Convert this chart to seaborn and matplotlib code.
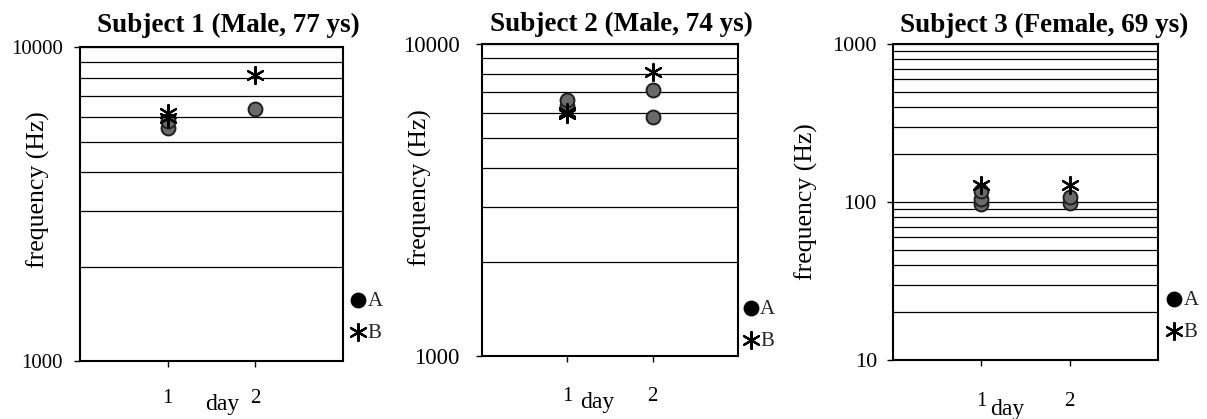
import matplotlib
matplotlib.use('Agg')
import matplotlib.pyplot as plt
import matplotlib.ticker as mticker
import seaborn as sns

# valores (frequencia em Hz por dia)
s1_A_dia = [1, 1, 2]
s1_A_freq = [5520, 5810, 6340]
s1_B_dia = [1, 1, 2]
s1_B_freq = [5950, 6160, 8150]

s2_A_dia = [1, 1, 2, 2]
s2_A_freq = [6330, 6615, 7120, 5840]
s2_B_dia = [1, 1, 2]
s2_B_freq = [5970, 6050, 8130]

s3_A_dia = [1, 1, 1, 2, 2]
s3_A_freq = [97, 105, 117, 98, 108]
s3_B_dia = [1, 2]
s3_B_freq = [128, 128]

titulos = ['Subject 1 (Male, 77 ys)', 'Subject 2 (Male, 74 ys)', 'Subject 3 (Female, 69 ys)']
limites = [(1000, 10000), (1000, 10000), (10, 1000)]
dias = [1, 2]

sns.set_theme(style='white')
plt.rcParams['font.family'] = ['Liberation Serif', 'DejaVu Serif']

fig = plt.figure(figsize=(12.07, 4.19), dpi=100)
fig.patch.set_color('white')

posicoes = [[0.0663, 0.1384, 0.2179, 0.749],
            [0.3993, 0.1504, 0.2121, 0.7446],
            [0.7398, 0.1408, 0.2196, 0.754]]
dados = [(s1_A_dia, s1_A_freq, s1_B_dia, s1_B_freq),
         (s2_A_dia, s2_A_freq, s2_B_dia, s2_B_freq),
         (s3_A_dia, s3_A_freq, s3_B_dia, s3_B_freq)]
titulo_xy = [(0.563, 1.07), (0.543, 1.064), (0.57, 1.06)]
ylabel_xy = [(-0.114, 0.545), (-0.195, 0.54), (-0.283, 0.5)]
xlabel_xy = [(0.54, -0.105), (0.45, -0.117), (0.43, -0.125)]
legenda_xy = [(0.99, 0.14), (0.98, 0.10), (0.995, 0.14)]
tick_fs = [15, 16.5, 16]
tick_pad = [8.5, 12, 7.5]
xtick_pad = [16, 18, 19]

for i in range(3):
    ax = fig.add_axes(posicoes[i])
    a_x, a_y, b_x, b_y = dados[i]

    sns.scatterplot(x=a_x, y=a_y, ax=ax, marker='o', s=100, color='#6a6a6a',
                    edgecolor='#1e1e1e', linewidth=1.4, zorder=3, label='A')
    sns.scatterplot(x=b_x, y=b_y, ax=ax, marker=(6, 2, 0), s=150, color='black',
                    linewidth=1.6, zorder=4, label='B')

    ax.set_yscale('log')
    ax.set_ylim(*limites[i])
    ax.set_xlim(0, 3)
    ax.set_xticks(dias)
    ax.set_xticklabels([str(d) for d in dias])

    ax.yaxis.set_major_locator(mticker.LogLocator(base=10))
    ax.yaxis.set_minor_locator(mticker.LogLocator(base=10, subs=range(2, 10)))
    ax.yaxis.set_major_formatter(mticker.FuncFormatter(lambda v, p: f'{v:.0f}'))
    ax.yaxis.set_minor_formatter(mticker.NullFormatter())
    ax.grid(True, axis='y', which='both', color='black', linewidth=0.9)
    ax.grid(False, axis='x')

    for sp in ax.spines.values():
        sp.set_color('black')
        sp.set_linewidth(1.5)

    ax.tick_params(axis='y', which='major', direction='out', length=4, width=1,
                   colors='black', labelsize=tick_fs[i], pad=tick_pad[i], left=True)
    ax.tick_params(axis='y', which='minor', length=0)
    ax.tick_params(axis='x', direction='out', length=4, width=1, colors='black',
                   labelsize=15, pad=xtick_pad[i], bottom=True)

    ax.set_ylabel('frequency (Hz)', fontsize=18.5, color='black')
    ax.yaxis.set_label_coords(*ylabel_xy[i])
    ax.set_xlabel('day', fontsize=17, color='black')
    ax.xaxis.set_label_coords(*xlabel_xy[i])

    ax.text(titulo_xy[i][0], titulo_xy[i][1], titulos[i], transform=ax.transAxes,
            ha='center', va='center', fontsize=19.5, fontweight='bold', color='black')

    leg = ax.legend(loc='center left', bbox_to_anchor=legenda_xy[i], frameon=False,
                    handletextpad=0.0, handlelength=0.9, labelspacing=0.6,
                    fontsize=15, borderaxespad=0.0)
    for h in leg.legend_handles:
        h.set_facecolor('black')
        h.set_edgecolor('black')

fig.savefig('out.png', dpi=100)
